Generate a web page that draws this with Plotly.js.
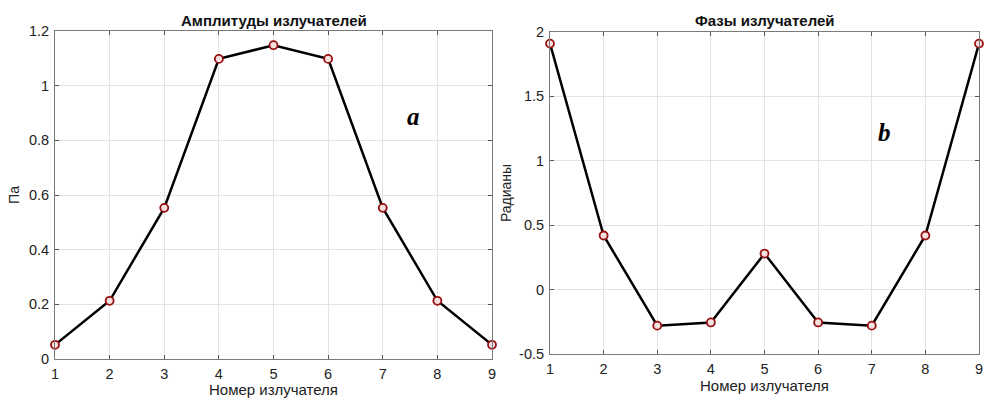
<!DOCTYPE html>
<html><head><meta charset="utf-8">
<script src="https://cdn.plot.ly/plotly-3.0.1.min.js"></script>
<style>html,body{margin:0;padding:0;background:#fff}#c{width:984px;height:398px}</style>
</head><body><div id="c"></div>
<script>
const emitters = [1,2,3,4,5,6,7,8,9];
const amplitudes = [0.052,0.213,0.553,1.098,1.148,1.098,0.553,0.213,0.052];
const phases = [1.91,0.42,-0.28,-0.255,0.28,-0.255,-0.28,0.42,1.91];
const xTicks = [1,2,3,4,5,6,7,8,9];
const ampTicks = [0,0.2,0.4,0.6,0.8,1,1.2];
const phaseTicks = [-0.5,0,0.5,1,1.5,2];

const FF = 'Liberation Sans, Arial, sans-serif';
const lineStyle = {color:'#000', width:2.5};
const markerStyle = {symbol:'circle', size:8, color:'#f5e0e0', line:{color:'#961010', width:1.8}};
const tfont = {family:FF, size:14.5, color:'#222'};
const axBase = {showline:true, mirror:'ticks', linecolor:'#7a7a7a', linewidth:1, ticks:'inside', ticklen:4, tickcolor:'#555',
  showgrid:true, gridcolor:'#e3e3e3', gridwidth:1, zeroline:false, tickfont:tfont, fixedrange:true, ticklabelstandoff:2};

const traces = [
  {x:emitters, y:amplitudes, xaxis:'x', yaxis:'y', mode:'lines+markers', line:lineStyle, marker:markerStyle, cliponaxis:false},
  {x:emitters, y:phases, xaxis:'x2', yaxis:'y2', mode:'lines+markers', line:lineStyle, marker:markerStyle, cliponaxis:false}
];
const layout = {
  width:984, height:398, margin:{l:0,r:0,t:0,b:0}, showlegend:false, paper_bgcolor:'#fff', plot_bgcolor:'#fff',
  xaxis:Object.assign({}, axBase, {domain:[55/984, 492/984], range:[1,9], tickvals:xTicks, anchor:'y',
    title:{text:'Номер излучателя', font:{family:FF, size:15, color:'#222'}, standoff:1}}),
  yaxis:Object.assign({}, axBase, {domain:[1-359/398, 1-31/398], range:[0,1.2], tickvals:ampTicks, ticktext:['0','0.2','0.4','0.6','0.8','1','1.2'], anchor:'x',
    title:{text:'Па', font:{family:FF, size:14, color:'#222'}, standoff:6}}),
  xaxis2:Object.assign({}, axBase, {domain:[550/984, 979/984], range:[1,9], tickvals:xTicks, anchor:'y2',
    title:{text:'Номер излучателя', font:{family:FF, size:15, color:'#222'}, standoff:1}}),
  yaxis2:Object.assign({}, axBase, {domain:[1-354/398, 1-32/398], range:[-0.5,2], tickvals:phaseTicks, ticktext:['-0.5','0','0.5','1','1.5','2'], anchor:'x2',
    title:{text:'Радианы', font:{family:FF, size:14, color:'#222'}, standoff:4}}),
  annotations:[
    {text:'<b>Амплитуды излучателей</b>', xref:'x', yref:'paper', x:5, y:1-21/398, showarrow:false, yanchor:'middle',
      font:{family:FF, size:15, color:'#111'}},
    {text:'<b>Фазы излучателей</b>', xref:'x2', yref:'paper', x:5, y:1-21/398, showarrow:false, yanchor:'middle',
      font:{family:FF, size:15, color:'#111'}},
    {text:'<b><i>a</i></b>', xref:'paper', yref:'paper', x:413/984, y:1-101/398, showarrow:false,
      font:{family:'Liberation Serif, Times New Roman, serif', size:25, color:'#000'}},
    {text:'<b><i>b</i></b>', xref:'paper', yref:'paper', x:893/984, y:1-117/398, showarrow:false,
      font:{family:'Liberation Serif, Times New Roman, serif', size:25, color:'#000'}}
  ]
};
Plotly.newPlot('c', traces, layout, {staticPlot:true});
</script></body></html>
